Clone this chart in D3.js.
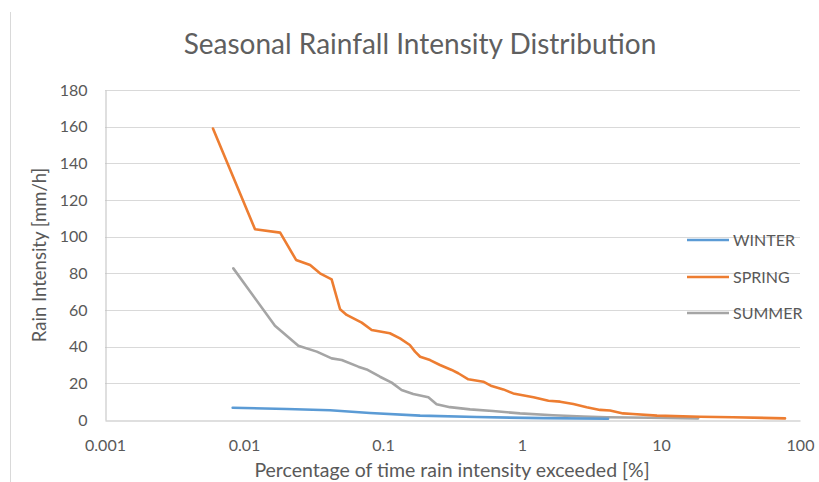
<!DOCTYPE html>
<html>
<head>
<meta charset="utf-8">
<script src="https://cdn.jsdelivr.net/npm/d3@7"></script>
<style>
  body { margin: 0; background: #fff; }
  svg text { font-family: Lato, "Open Sans", sans-serif; fill: #595959; }
</style>
</head>
<body>
<div id="chart"></div>
<script>
// Seasonal rainfall: percentage of time exceeded vs rain intensity (mm/h)
const xTicks = [0.001, 0.01, 0.1, 1, 10, 100];
const xTickLabels = ["0.001", "0.01", "0.1", "1", "10", "100"];
const yTicks = [0, 20, 40, 60, 80, 100, 120, 140, 160, 180];

const seriesNames = ["WINTER", "SPRING", "SUMMER"];
const seriesColors = ["#5B9BD5", "#ED7D31", "#A5A5A5"];

const winterX = [0.00829, 0.0203, 0.0416, 0.0806, 0.185, 0.472, 1.42, 4.16];
const winterY = [6.7, 6.0, 5.3, 3.8, 2.4, 1.6, 1.0, 0.7];

const springX = [0.00598, 0.0120, 0.0182, 0.0237, 0.0299, 0.0352, 0.0427, 0.0491, 0.0548,
  0.0703, 0.0829, 0.112, 0.1325, 0.156, 0.170, 0.185, 0.218, 0.257, 0.312, 0.348, 0.411,
  0.527, 0.605, 0.734, 0.865, 1.21, 1.55, 1.88, 2.34, 2.92, 3.64, 4.30, 5.33, 6.29, 9.36,
  19.1, 33.0, 78.0];
const springY = [159, 104, 102.2, 87.3, 84.5, 80, 76.7, 60.4, 57.3,
  53.1, 49.1, 47.3, 44.5, 40.9, 37.3, 34.5, 32.7, 30, 27.3, 25.5, 22.2,
  20.9, 18.5, 16.7, 14.5, 12.4, 10.5, 10, 8.7, 7, 5.5, 5.2, 3.6, 3.3, 2.4,
  1.8, 1.5, 0.9];

const summerX = [0.00838, 0.0167, 0.0246, 0.0334, 0.0427, 0.0505, 0.0664, 0.0763, 0.0951,
  0.1155, 0.136, 0.165, 0.212, 0.243, 0.303, 0.423, 0.618, 0.968, 1.67, 2.75, 4.09, 8.34, 18.5];
const summerY = [82.7, 51.4, 40.5, 37.3, 33.6, 32.7, 29.1, 27.6, 23.6,
  20.4, 16.4, 14.2, 12.4, 8.6, 7.0, 5.8, 4.9, 3.6, 2.6, 1.9, 1.5, 1.2, 0.9];

function draw() {
  const width = 819, height = 482;
  const margin = { top: 90, right: 19, bottom: 62, left: 105 };

  const svg = d3.select('#chart').append('svg')
    .attr('width', width)
    .attr('height', height);

  const xScale = d3.scaleLog()
    .domain([0.001, 100])
    .range([margin.left, width - margin.right]);
  const yScale = d3.scaleLinear()
    .domain([0, 180])
    .range([height - margin.bottom, margin.top]);

  // chart border on the left
  svg.append('line')
    .attr('x1', 10.5).attr('x2', 10.5)
    .attr('y1', 12).attr('y2', height)
    .style('stroke', '#D9D9D9');

  // Title
  svg.append('text')
    .attr('x', 420).attr('y', 54)
    .attr('text-anchor', 'middle')
    .style('font-size', '28px')
    .style('fill', '#5f5f5f')
    .text('Seasonal Rainfall Intensity Distribution');

  // gridlines
  svg.append('g')
    .selectAll('line')
    .data(yTicks.filter(d => d > 0))
    .join('line')
    .attr('x1', margin.left).attr('x2', width - margin.right)
    .attr('y1', d => Math.round(yScale(d)) + 0.5)
    .attr('y2', d => Math.round(yScale(d)) + 0.5)
    .style('stroke', '#D9D9D9');

  // axes
  const yAxis = d3.axisLeft(yScale).tickValues(yTicks).tickSize(0).tickPadding(18);
  const yAxisGroup = svg.append('g')
    .attr('transform', `translate(${margin.left + 0.5}, 0)`)
    .call(yAxis);
  yAxisGroup.select('.domain').style('stroke', '#BFBFBF');
  yAxisGroup.selectAll('text').style('font-size', '16px').style('fill', '#595959');

  const xAxis = d3.axisBottom(xScale)
    .tickValues(xTicks)
    .tickFormat((d, i) => xTickLabels[i])
    .tickSize(0).tickPadding(19);
  const xAxisGroup = svg.append('g')
    .attr('transform', `translate(0, ${Math.round(yScale(0)) + 0.5})`)
    .call(xAxis);
  xAxisGroup.select('.domain').style('stroke', '#BFBFBF');
  xAxisGroup.selectAll('text').style('font-size', '16px').style('fill', '#595959');

  // axis titles
  svg.append('text')
    .attr('x', 452).attr('y', 477)
    .attr('text-anchor', 'middle')
    .style('font-size', '19.5px')
    .text('Percentage of time rain intensity exceeded [%]');
  svg.append('text')
    .attr('transform', `translate(46, ${(margin.top + height - margin.bottom) / 2}) rotate(-90)`)
    .attr('text-anchor', 'middle')
    .style('font-size', '18.5px')
    .text('Rain Intensity [mm/h]');

  // series lines
  const seriesData = [
    winterX.map((x, i) => ({ x: x, y: winterY[i] })),
    springX.map((x, i) => ({ x: x, y: springY[i] })),
    summerX.map((x, i) => ({ x: x, y: summerY[i] }))
  ];
  const line = d3.line()
    .x(d => xScale(d.x))
    .y(d => yScale(d.y));

  // winter drawn last so it sits on top of summer at the tail
  [2, 1, 0].forEach(i => {
    svg.append('path')
      .datum(seriesData[i])
      .attr('d', line)
      .style('fill', 'none')
      .style('stroke', seriesColors[i])
      .style('stroke-width', 2.6)
      .style('stroke-linejoin', 'round')
      .style('stroke-linecap', 'round');
  });

  // legend
  const legend = svg.append('g').attr('class', 'legend');
  const legendY = [240, 277, 313];
  seriesNames.forEach((name, i) => {
    legend.append('line')
      .attr('x1', 687).attr('x2', 729)
      .attr('y1', legendY[i]).attr('y2', legendY[i])
      .style('stroke', seriesColors[i])
      .style('stroke-width', 2.6);
    legend.append('text')
      .attr('x', 733).attr('y', legendY[i])
      .attr('dy', '0.36em')
      .style('font-size', '16px')
      .text(name);
  });
}
draw();
</script>
</body>
</html>
